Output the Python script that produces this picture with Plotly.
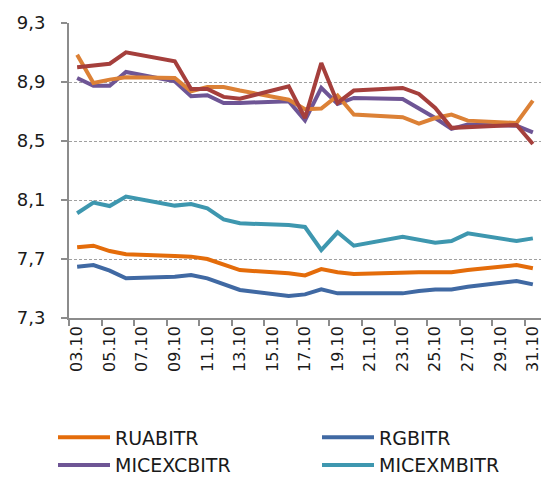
import plotly.graph_objects as go

dates = ["03.10", "04.10", "05.10", "06.10", "09.10", "10.10", "11.10", "12.10", "13.10",
         "16.10", "17.10", "18.10", "19.10", "20.10", "23.10", "24.10", "25.10", "26.10",
         "27.10", "30.10", "31.10"]
tick_labels = ["03.10", "05.10", "07.10", "09.10", "11.10", "13.10", "15.10", "17.10",
               "19.10", "21.10", "23.10", "25.10", "27.10", "29.10", "31.10"]

RUABITR = [7.779, 7.790, 7.754, 7.732, 7.720, 7.716, 7.700, 7.659, 7.625, 7.603, 7.589,
           7.632, 7.610, 7.598, 7.610, 7.610, 7.610, 7.610, 7.625, 7.659, 7.637]
RGBITR = [7.648, 7.659, 7.621, 7.569, 7.580, 7.592, 7.569, 7.528, 7.490, 7.449, 7.460,
          7.494, 7.467, 7.467, 7.467, 7.483, 7.494, 7.494, 7.512, 7.551, 7.528]
MICEXCBITR = [8.927, 8.875, 8.875, 8.968, 8.905, 8.803, 8.810, 8.758, 8.758, 8.770, 8.640,
              8.860, 8.751, 8.792, 8.785, 8.724, 8.656, 8.582, 8.611, 8.604, 8.559]
MICEXMBITR = [8.010, 8.082, 8.059, 8.123, 8.062, 8.073, 8.044, 7.969, 7.942, 7.930, 7.917,
              7.761, 7.881, 7.790, 7.851, 7.833, 7.810, 7.822, 7.874, 7.822, 7.840]
RUCBITRB = [9.085, 8.893, 8.916, 8.932, 8.927, 8.837, 8.866, 8.866, 8.842, 8.780, 8.715,
            8.720, 8.808, 8.679, 8.661, 8.618, 8.656, 8.679, 8.638, 8.622, 8.774]
RUCBITRBB = [9.000, 9.011, 9.024, 9.101, 9.040, 8.853, 8.853, 8.799, 8.787, 8.871, 8.656,
             9.029, 8.758, 8.842, 8.860, 8.819, 8.724, 8.589, 8.595, 8.609, 8.480]

# (name, values, colour, legend column)
series = [
    ("RUABITR", RUABITR, "#E46C0A", "legend"),
    ("RGBITR", RGBITR, "#4069A3", "legend2"),
    ("MICEXCBITR", MICEXCBITR, "#6E5595", "legend"),
    ("MICEXMBITR", MICEXMBITR, "#3E97AF", "legend2"),
    ("RUCBITRB", RUCBITRB, "#DC8136", "legend"),
    ("RUCBITRBB", RUCBITRBB, "#A53F3C", "legend2"),
]

days = [int(d[:2]) for d in dates]
tick_days = [int(t[:2]) for t in tick_labels]
boundaries = [d - 0.5 for d in tick_days]

FONT = "DejaVu Sans"
# page body has an 8px margin inside the 558x484 window; the figure runs a little
# past the window bottom so the legend's last row is clipped as in the original
W, H = 550, 540
L, R, T, B = 61, 17, 15, 230
PW, PH = W - L - R, H - T - B

fig = go.Figure()
for name, vals, color, lg in series:
    fig.add_trace(go.Scatter(x=days, y=vals, name=name, mode="lines", legend=lg,
                             line=dict(color=color, width=4)))

legend_common = dict(orientation="v", xref="paper", yref="paper",
                     xanchor="left", yanchor="top", tracegroupgap=0, itemwidth=52,
                     bgcolor="rgba(0,0,0,0)",
                     font=dict(family=FONT, size=19, color="#1a1a1a"))
leg_top = (PH + T - 410.5) / PH

fig.update_layout(
    width=W, height=H,
    margin=dict(l=L, r=R, t=T, b=B, autoexpand=False),
    paper_bgcolor="white", plot_bgcolor="white",
    separators=", ",
    showlegend=True,
    legend=dict(x=(45 - L) / PW, y=leg_top, **legend_common),
    legend2=dict(x=(309 - L) / PW, y=leg_top, **legend_common),
    xaxis=dict(range=[2.5, 31.5], tickmode="array", tickvals=tick_days, ticktext=tick_labels,
               tickangle=-90, ticks="", showgrid=False, zeroline=False,
               showline=True, linecolor="#8c8c8c", linewidth=1.5,
               tickfont=dict(family=FONT, size=16, color="#1a1a1a"),
               minor=dict(tickmode="array", tickvals=boundaries, ticks="outside",
                          ticklen=6, tickcolor="#8c8c8c", tickwidth=1.5, showgrid=False)),
    yaxis=dict(range=[7.3, 9.3], tick0=7.3, dtick=0.4, tickformat=".1f",
               ticks="outside", ticklen=6, tickcolor="#8c8c8c", tickwidth=1.5,
               showline=True, linecolor="#8c8c8c", linewidth=2,
               showgrid=True, gridcolor="#a0a0a0", gridwidth=1, griddash="3px,2px",
               zeroline=False, ticklabelstandoff=12,
               tickfont=dict(family=FONT, size=18, color="#1a1a1a")),
)

fig.write_html("out.html")
